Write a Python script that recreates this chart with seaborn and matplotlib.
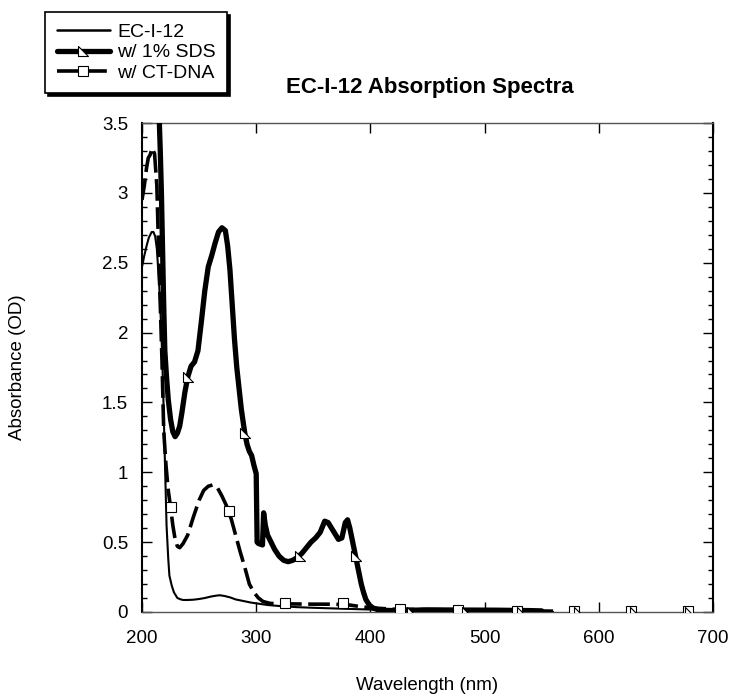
import numpy as np
import pandas as pd
import matplotlib
matplotlib.use("Agg")
import matplotlib.pyplot as plt
import seaborn as sns
from matplotlib.path import Path
from matplotlib.lines import Line2D
from matplotlib.ticker import MultipleLocator, FuncFormatter

# ---------------- data ----------------
ec_wl = [200, 202, 204, 206, 208.5, 210, 211.5, 213, 215, 217, 218.5, 220, 221.5, 223, 224,
         226, 228, 231, 234, 236, 240, 245, 250, 255, 260, 265, 268, 272, 277, 282, 288,
         295, 300, 310, 320, 335, 350, 370, 390, 410, 430, 450, 480, 510, 540, 560]
ec_abs = [2.47, 2.55, 2.62, 2.68, 2.72, 2.72, 2.69, 2.60, 2.35, 2.00, 1.60, 1.10, 0.62, 0.38, 0.26,
          0.19, 0.14, 0.10, 0.09, 0.086, 0.086, 0.088, 0.093, 0.10, 0.11, 0.117, 0.12, 0.115, 0.105, 0.09, 0.08,
          0.068, 0.062, 0.05, 0.043, 0.035, 0.03, 0.025, 0.02, 0.015, 0.012, 0.01, 0.008, 0.005, 0.003, 0.0]

sds_wl = [212, 213.5, 215, 216, 217, 218, 219, 220, 221.5, 223, 225, 227, 229, 231, 233, 235,
          237.5, 240, 243, 246, 249, 252, 255, 258, 261, 264, 267, 270, 273, 275, 277, 279,
          281, 283, 285, 287, 290, 292, 294, 296, 298, 300, 300.8, 302, 305.5, 306.5, 308, 310,
          313, 316, 320, 324, 328, 332, 336, 340, 344, 348, 352, 356, 360, 363, 366, 369,
          372, 375, 378, 380, 382, 384, 386, 388, 390, 392, 394, 396, 399, 402, 406, 412,
          420, 430, 450, 480, 510, 540, 550]
sds_abs = [3.9, 3.75, 3.55, 3.3, 3.0, 2.6, 2.2, 1.87, 1.68, 1.52, 1.38, 1.29, 1.255, 1.28, 1.33, 1.43,
           1.57, 1.68, 1.76, 1.79, 1.87, 2.08, 2.30, 2.47, 2.55, 2.64, 2.72, 2.75, 2.73, 2.62, 2.45, 2.20,
           1.95, 1.75, 1.60, 1.45, 1.28, 1.20, 1.15, 1.12, 1.05, 0.99, 0.50, 0.49, 0.48, 0.71, 0.62, 0.55,
           0.50, 0.45, 0.40, 0.37, 0.36, 0.37, 0.39, 0.42, 0.46, 0.50, 0.53, 0.57, 0.65, 0.64, 0.60, 0.56,
           0.52, 0.53, 0.64, 0.66, 0.60, 0.52, 0.44, 0.36, 0.28, 0.20, 0.14, 0.09, 0.05, 0.03, 0.018, 0.012,
           0.01, 0.012, 0.015, 0.014, 0.013, 0.01, 0.008]

dna_wl = [200, 202, 204, 205.5, 207, 209, 211, 213, 214.5, 216, 217.5, 219, 221, 223, 225, 227,
          229, 231, 233, 236, 240, 245, 250, 254, 258, 262, 266, 270, 274, 278, 282, 286,
          290, 294, 298, 302, 306, 312, 320, 330, 340, 350, 360, 370, 380, 390, 400, 410,
          420, 440, 470, 500, 530, 560]
dna_abs = [2.95, 3.05, 3.18, 3.25, 3.27, 3.32, 3.28, 3.05, 2.6, 2.2, 1.8, 1.3, 1.05, 0.87, 0.75, 0.62,
           0.52, 0.47, 0.46, 0.49, 0.55, 0.68, 0.80, 0.87, 0.90, 0.91, 0.89, 0.83, 0.76, 0.67, 0.55, 0.43,
           0.32, 0.20, 0.14, 0.10, 0.075, 0.062, 0.058, 0.058, 0.057, 0.056, 0.056, 0.055, 0.052, 0.04, 0.03, 0.025,
           0.02, 0.018, 0.016, 0.013, 0.01, 0.006]

# marker positions (symbols drawn along the curves)
sds_mk_wl = [240.6, 290, 338, 387, 436, 485, 533, 583, 632, 680]
sds_mk_abs = [1.68, 1.28, 0.40, 0.40, 0.0, 0.0, 0.0, 0.0, 0.0, 0.0]
dna_mk_wl = [225, 276, 325, 376, 426, 477, 528, 578, 628, 678]
dna_mk_abs = [0.75, 0.72, 0.065, 0.065, 0.02, 0.015, 0.01, 0.005, 0.005, 0.005]

series_labels = ["EC-I-12", "w/ 1% SDS", "w/ CT-DNA"]
x_ticks = [200, 300, 400, 500, 600, 700]
title = "EC-I-12 Absorption Spectra"
x_label = "Wavelength (nm)"
y_label = "Absorbance (OD)"

# ---------------- style ----------------
sns.set_style("ticks")
plt.rcParams["font.family"] = ["Liberation Sans", "DejaVu Sans"]
plt.rcParams["text.color"] = "black"
plt.rcParams["axes.labelcolor"] = "black"
plt.rcParams["xtick.color"] = "black"
plt.rcParams["ytick.color"] = "black"

fig = plt.figure(figsize=(7.36, 6.96), dpi=100)
W, H = 736, 696
ax = fig.add_axes([142 / W, 1 - 612 / H, (713 - 142) / W, (612 - 123) / H])

tri = Path([(-1, 1), (-1, -1), (1, -1), (-1, 1)],
           [Path.MOVETO, Path.LINETO, Path.LINETO, Path.CLOSEPOLY])

sns.lineplot(x=ec_wl, y=ec_abs, ax=ax, color="black", lw=1.5, sort=False, estimator=None, zorder=3)
sns.lineplot(x=dna_wl, y=dna_abs, ax=ax, color="black", lw=2.6, sort=False, estimator=None,
             dashes=False, zorder=4)
ax.lines[-1].set_dashes((6, 1.8))
sns.lineplot(x=sds_wl, y=sds_abs, ax=ax, color="black", lw=3.8, sort=False, estimator=None, zorder=5)

sns.lineplot(x=dna_mk_wl, y=dna_mk_abs, ax=ax, marker="s", linestyle="", markersize=7.5,
             markerfacecolor="white", markeredgecolor="black", markeredgewidth=0.8,
             sort=False, estimator=None, zorder=6)
sns.lineplot(x=sds_mk_wl, y=sds_mk_abs, ax=ax, marker=tri, linestyle="", markersize=7,
             markerfacecolor="white", markeredgecolor="black", markeredgewidth=0.8,
             sort=False, estimator=None, zorder=7)

ax.set_xlim(200, 700)
ax.set_ylim(0, 3.5)
ax.set_xticks(x_ticks)
ax.yaxis.set_major_locator(MultipleLocator(0.5))
ax.yaxis.set_minor_locator(MultipleLocator(0.1))
ax.yaxis.set_major_formatter(FuncFormatter(lambda v, p: f"{v:g}"))
ax.tick_params(axis="both", which="both", direction="in", top=True, right=True,
               labelsize=13.5, color="black", labelcolor="black")
ax.tick_params(axis="both", which="major", length=7, width=1)
ax.tick_params(axis="y", which="minor", length=3.6, width=1)
ax.tick_params(axis="y", which="major", pad=10)
ax.tick_params(axis="x", which="major", pad=13)

for s in ["left", "right"]:
    ax.spines[s].set_linewidth(1.5)
    ax.spines[s].set_color("black")
for s in ["top", "bottom"]:
    ax.spines[s].set_linewidth(1.0)
    ax.spines[s].set_color("#555555")

ax.set_xlabel(x_label, fontsize=13.5, color="black")
ax.set_ylabel(y_label, fontsize=13.5, color="black")
ax.xaxis.set_label_coords(0.5, (612 - 685) / (612 - 123))
ax.xaxis.label.set_va("center")
ax.yaxis.set_label_coords((18 - 142) / (713 - 142), 0.5)
ax.yaxis.label.set_va("center")

fig.text(430 / W, 1 - 88 / H, title, ha="center", va="center", fontsize=16,
         fontweight="bold", color="black")

handles = [
    Line2D([], [], color="black", lw=1.8),
    Line2D([], [], color="black", lw=3.8, marker=tri, markersize=7,
           markerfacecolor="white", markeredgecolor="black", markeredgewidth=0.8),
    Line2D([], [], color="black", lw=2.6, dashes=(6, 1.8), marker="s", markersize=7.5,
           markerfacecolor="white", markeredgecolor="black", markeredgewidth=0.8),
]
leg = fig.legend(handles, series_labels, loc="upper left", bbox_to_anchor=(45 / W, 1 - 12 / H),
                 borderaxespad=0, fontsize=14, handlelength=2.75, handletextpad=0.36,
                 labelspacing=0.13, borderpad=0.6, frameon=True, fancybox=False,
                 shadow={"color": "black", "alpha": 1}, numpoints=1)
leg.get_frame().set_edgecolor("black")
leg.get_frame().set_linewidth(1.2)
leg.get_frame().set_alpha(1)
for t in leg.get_texts():
    t.set_color("black")

fig.savefig("out.png", dpi=100)
